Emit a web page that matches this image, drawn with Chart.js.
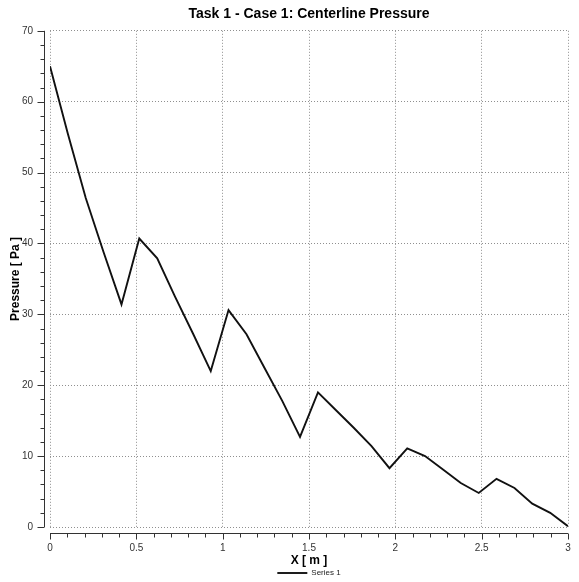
<!DOCTYPE html>
<html>
<head>
<meta charset="utf-8">
<script src="https://cdn.jsdelivr.net/npm/chart.js"></script>
<style>
    body { margin: 0; background: #fff; }
    #wrap { width: 579px; height: 582px; }
</style>
</head>
<body>
<div id="wrap"><canvas id="chart" width="579" height="582"></canvas></div>
<script>
// position along centerline (m)
const xValues = [0, 0.103, 0.207, 0.31, 0.414, 0.517, 0.621, 0.724, 0.828, 0.931,
    1.034, 1.138, 1.241, 1.345, 1.448, 1.552, 1.655, 1.759, 1.862, 1.966,
    2.069, 2.172, 2.276, 2.379, 2.483, 2.586, 2.69, 2.793, 2.897, 3]
// pressure (Pa)
const pressure = [65.0, 55.5, 46.4, 38.8, 31.4, 40.7, 37.9, 32.5, 27.3, 22.0,
    30.6, 27.2, 22.5, 17.8, 12.7, 19.0, 16.5, 14.0, 11.4, 8.3,
    11.1, 10.0, 8.1, 6.2, 4.8, 6.8, 5.5, 3.3, 2.0, 0.1]

const seriesName = 'Series 1'
const chartTitle = 'Task 1 - Case 1: Centerline Pressure'
const xTitle = 'X [ m ]'
const yTitle = 'Pressure [ Pa ]'

const points = xValues.map((x, i) => ({ x: x, y: pressure[i] }))

// axis lines sit a few pixels away from the plot, with major and minor ticks
const axesPlugin = {
    id: 'axesPlugin',
    afterDraw(chart) {
        const ctx = chart.ctx
        const a = chart.chartArea
        const xs = chart.scales.x
        const ys = chart.scales.y
        ctx.save()
        ctx.strokeStyle = '#333'
        ctx.lineWidth = 1

        const x0 = Math.round(a.left - 6) + 0.5
        ctx.beginPath()
        ctx.moveTo(x0, ys.getPixelForValue(ys.max))
        ctx.lineTo(x0, ys.getPixelForValue(ys.min))
        for (let v = ys.min; v <= ys.max; v += 2) {
            const py = Math.round(ys.getPixelForValue(v)) + 0.5
            const len = v % 10 === 0 ? 7 : 4
            ctx.moveTo(x0 - len, py)
            ctx.lineTo(x0, py)
        }
        ctx.stroke()

        const y0 = Math.round(a.bottom + 6) + 0.5
        ctx.beginPath()
        ctx.moveTo(xs.getPixelForValue(xs.min), y0)
        ctx.lineTo(xs.getPixelForValue(xs.max), y0)
        for (let i = 0; i <= 30; i++) {
            const px = Math.round(xs.getPixelForValue(i / 10)) + 0.5
            const len = i % 5 === 0 ? 6 : 4
            ctx.moveTo(px, y0)
            ctx.lineTo(px, y0 + len)
        }
        ctx.stroke()
        ctx.restore()
    }
}

const gridStyle = { color: '#8f8f8f', lineWidth: 1, drawTicks: false }
const tickFont = { family: 'Liberation Sans', size: 10 }

const ctx = document.getElementById('chart').getContext('2d')

const chart = new Chart(ctx, {
    type: 'scatter',
    data: {
        datasets: [{
            label: seriesName,
            data: points,
            showLine: true,
            borderColor: '#111',
            backgroundColor: '#111',
            borderWidth: 1.9,
            tension: 0,
            pointRadius: 0,
            pointHoverRadius: 0,
            pointStyle: 'line'
        }]
    },
    options: {
        responsive: false,
        devicePixelRatio: 1,
        animation: false,
        layout: { padding: { top: 0, right: 11, left: 0, bottom: -5 } },
        plugins: {
            title: {
                display: true,
                text: chartTitle,
                fullSize: false,
                color: '#000',
                font: { family: 'Liberation Sans', size: 14, weight: 'bold' },
                padding: { top: 6, bottom: 8 }
            },
            legend: {
                position: 'bottom',
                fullSize: false,
                labels: {
                    usePointStyle: true,
                    pointStyleWidth: 30,
                    color: '#222',
                    padding: 5,
                    font: { family: 'Liberation Sans', size: 8 }
                }
            },
            tooltip: { enabled: false }
        },
        scales: {
            x: {
                type: 'linear',
                min: 0,
                max: 3,
                ticks: { stepSize: 0.5, padding: 15, color: '#333', font: tickFont,
                    callback: v => String(v) },
                grid: gridStyle,
                border: { display: false, dash: [1, 2] },
                title: { display: true, text: xTitle, color: '#000',
                    font: { family: 'Liberation Sans', size: 12, weight: 'bold' },
                    padding: { top: 0, bottom: -4 } },
                afterFit(scale) {
                    scale.height = 37
                    scale.paddingLeft = 0
                    scale.paddingRight = 0
                }
            },
            y: {
                min: 0,
                max: 70,
                ticks: { stepSize: 10, padding: 17, color: '#333', font: tickFont,
                    callback: v => String(v) },
                grid: gridStyle,
                border: { display: false, dash: [1, 2] },
                title: { display: true, text: yTitle, color: '#000',
                    font: { family: 'Liberation Sans', size: 12, weight: 'bold' },
                    padding: { top: 8, bottom: 0 } },
                afterFit(scale) {
                    scale.width = 50
                    scale.paddingTop = 0
                    scale.paddingBottom = 0
                }
            }
        }
    },
    plugins: [axesPlugin]
})
</script>
</body>
</html>
